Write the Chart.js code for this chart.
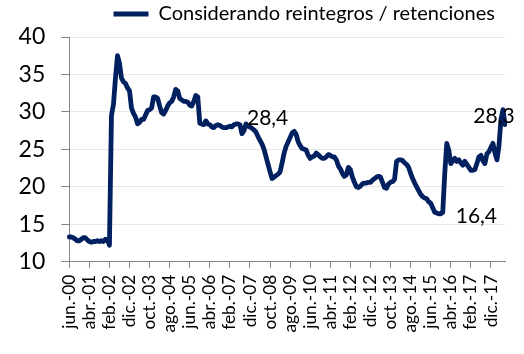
<!DOCTYPE html>
<html>
<head>
<meta charset="utf-8">
<script src="https://cdn.jsdelivr.net/npm/chart.js@4"></script>
<style>
html,body{margin:0;padding:0;background:#fff;}
#wrap{width:524px;height:354px;}
</style>
</head>
<body>
<div id="wrap"><canvas id="c" width="524" height="354"></canvas></div>
<script>
const seriesName = "Considerando reintegros / retenciones";
const monthNames = ["ene.","feb.","mar.","abr.","may.","jun.","jul.","ago.","sep.","oct.","nov.","dic."];
const startYear = 2000, startMonth = 5, monthCount = 218;
const categories = [];
for (let k = 0; k < monthCount; k++) {
  const m = (startMonth + k) % 12;
  const y = startYear + Math.floor((startMonth + k) / 12);
  categories.push(monthNames[m] + "-" + String(y % 100).padStart(2, "0"));
}
const tickEvery = 10;

const values = [
  13.3,13.3,13.2,13.0,12.8,12.8,13.0,13.2,13.2,12.9,
  12.7,12.6,12.7,12.7,12.8,12.7,12.8,12.7,13.0,12.9,
  12.2,29.5,31.0,34.5,37.5,36.5,34.5,34.0,33.8,33.2,
  32.8,30.5,29.8,29.3,28.4,28.6,29.0,29.0,29.6,30.2,
  30.3,30.5,32.0,32.0,31.8,30.8,29.9,29.7,30.2,30.8,
  31.2,31.4,32.0,33.0,32.8,31.8,31.6,31.4,31.4,31.3,
  30.9,30.8,31.4,32.2,32.0,28.5,28.4,28.3,28.8,28.4,
  28.3,28.0,27.9,28.2,28.3,28.2,28.0,27.9,27.9,28.0,
  28.1,28.0,28.3,28.4,28.4,28.3,27.1,27.5,28.4,28.1,
  28.0,27.8,27.6,27.3,26.7,26.2,25.7,25.0,24.0,23.0,
  22.0,21.1,21.3,21.5,21.7,22.0,23.2,24.5,25.4,26.0,
  26.6,27.2,27.4,27.0,26.0,25.5,25.1,25.0,24.9,24.2,
  23.8,24.0,24.1,24.5,24.3,24.0,23.8,23.8,24.0,24.3,
  24.2,24.0,24.0,23.6,22.8,22.4,21.8,21.4,21.6,22.6,
  22.3,21.3,20.6,20.0,19.9,20.1,20.4,20.5,20.5,20.6,
  20.6,20.9,21.1,21.3,21.4,21.3,20.6,19.9,19.8,20.4,
  20.6,20.7,21.0,23.4,23.6,23.6,23.5,23.2,23.0,22.6,
  21.8,21.1,20.5,20.0,19.5,19.0,18.7,18.5,18.4,18.0,
  17.8,17.2,16.6,16.5,16.4,16.4,16.6,21.8,25.8,24.9,
  23.1,23.5,23.8,23.4,23.6,23.2,22.9,23.4,23.0,22.6,
  22.2,22.2,22.3,23.1,24.0,24.2,23.5,23.1,24.4,24.7,
  25.3,25.8,24.5,23.6,25.5,29.0,30.3,28.3
];
const yTicks = [10,15,20,25,30,35,40];
const labelIdx = [88, 184, 217];
const labelText = ["28,4", "16,4", "28,3"];

const FONT = "Lato";
const navy = "#002060";

const labelPlugin = {
  id: "pointLabels",
  afterDatasetsDraw(chart) {
    const meta = chart.getDatasetMeta(0);
    const ctx = chart.ctx;
    ctx.save();
    ctx.font = "21px " + FONT;
    ctx.fillStyle = "#000";
    ctx.textBaseline = "middle";
    const offs = [[1,-6,"left"],[17,2,"left"],[-11,-8,"center"]];
    labelIdx.forEach((idx, j) => {
      const p = meta.data[idx];
      ctx.textAlign = offs[j][2];
      ctx.fillText(labelText[j], p.x + offs[j][0], p.y + offs[j][1]);
    });
    ctx.restore();
  }
};

new Chart(document.getElementById("c"), {
  type: "line",
  data: {
    labels: categories,
    datasets: [{
      label: seriesName,
      data: values,
      borderColor: navy,
      backgroundColor: navy,
      borderWidth: 4.8,
      pointRadius: 0,
      tension: 0,
      borderJoinStyle: "round",
      borderCapStyle: "round",
      fill: false
    }]
  },
  options: {
    responsive: false,
    animation: false,
    devicePixelRatio: 1,
    layout: { padding: { left: 2.6, right: 19, top: -6, bottom: 14.5 } },
    plugins: {
      tooltip: { enabled: false },
      title: { display: true, text: "", weight: 500, padding: 0, font: { size: 3, lineHeight: 1 } },
      legend: {
        display: true,
        position: "top",
        align: "end",
        labels: {
          font: { family: FONT, size: 20 },
          color: "#000",
          boxWidth: 35,
          boxHeight: 5,
          padding: 10,
          generateLabels: (chart) => [{
            text: seriesName, fillStyle: navy, strokeStyle: navy, lineWidth: 0, datasetIndex: 0
          }]
        }
      }
    },
    scales: {
      x: {
        type: "category",
        offset: false,
        grid: { display: true, drawOnChartArea: false, drawTicks: true, tickLength: 6, color: "#868686" },
        border: { display: true, color: "#868686", width: 1 },
        ticks: {
          autoSkip: false,
          maxRotation: 90,
          minRotation: 90,
          padding: 7,
          color: "#000",
          font: { family: FONT, size: 17.3 },
          callback: function(val, index) { return index % tickEvery === 0 ? categories[index] : null; }
        }
      },
      y: {
        min: 10, max: 40,
        afterBuildTicks: (axis) => { axis.ticks = yTicks.map(v => ({ value: v })); },
        grid: { color: "#e6e6e6", tickColor: "#868686", tickLength: 8, drawTicks: true },
        border: { display: true, color: "#868686", width: 1 },
        ticks: { padding: 16, color: "#000", font: { family: FONT, size: 23 } }
      }
    }
  },
  plugins: [labelPlugin]
});
</script>
</body>
</html>
